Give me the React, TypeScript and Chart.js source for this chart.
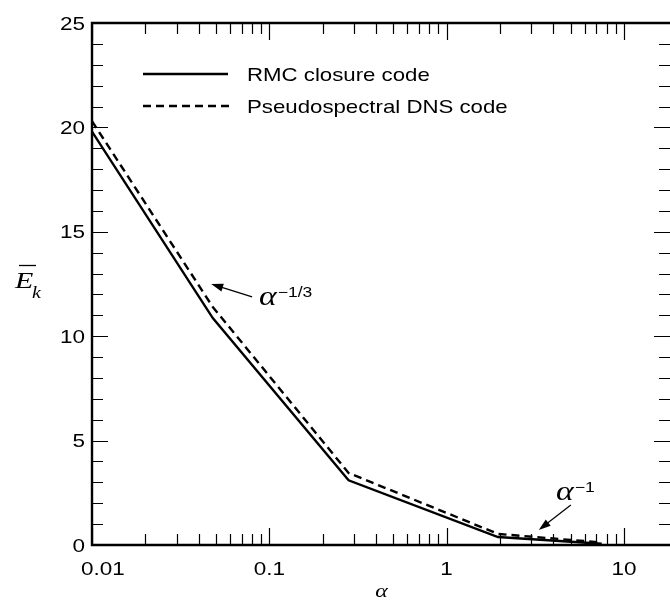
import React, { useEffect, useRef } from "react";
import { Chart, registerables } from "chart.js";

Chart.register(...registerables);

// ---- data ----
const alpha = [0.01, 0.048, 0.28, 1.95, 7.5];
const rmcValues = [19.8, 10.87, 3.1, 0.38, 0.06];
const dnsValues = [20.3, 11.4, 3.45, 0.53, 0.12];
const seriesLabels = ["RMC closure code", "Pseudospectral DNS code"];

const xTicks = [0.01, 0.1, 1, 10];
const xTickLabels = ["0.01", "0.1", "1", "10"];
const yTicks = [0, 5, 10, 15, 20, 25];
const yTickLabels = ["0", "5", "10", "15", "20", "25"];
const xMin = 0.01;
const xMax = 18.2;
const yMin = 0;
const yMax = 25;

// annotation anchors (data coordinates)
const arrowA = { from: [0.08, 11.88], to: [0.047, 12.5] };
const arrowB = { from: [5.02, 1.92], to: [3.31, 0.72] };
const labelA = { at: [0.0875, 11.49], sup: "\u22121/3" };
const labelB = { at: [4.14, 2.15], sup: "\u22121" };

const SANS = "'Liberation Sans', Arial, Helvetica, sans-serif";
const SERIF = "'Liberation Serif', 'Times New Roman', serif";
const STRETCH = 1.25;

function sText(
  ctx: CanvasRenderingContext2D,
  text: string,
  x: number,
  y: number,
  font: string,
  align: CanvasTextAlign = "left"
) {
  ctx.save();
  ctx.font = font;
  ctx.textAlign = align;
  ctx.textBaseline = "alphabetic";
  ctx.translate(x, y);
  ctx.scale(STRETCH, 1);
  ctx.fillText(text, 0, 0);
  const w = ctx.measureText(text).width * STRETCH;
  ctx.restore();
  return w;
}

function textWidth(ctx: CanvasRenderingContext2D, text: string, font: string) {
  ctx.save();
  ctx.font = font;
  const w = ctx.measureText(text).width * STRETCH;
  ctx.restore();
  return w;
}

function drawArrow(ctx: CanvasRenderingContext2D, x1: number, y1: number, x2: number, y2: number) {
  const ang = Math.atan2(y2 - y1, x2 - x1);
  const hl = 12;
  const hw = 4;
  ctx.beginPath();
  ctx.lineWidth = 1.2;
  ctx.moveTo(x1, y1);
  ctx.lineTo(x2 - Math.cos(ang) * hl * 0.8, y2 - Math.sin(ang) * hl * 0.8);
  ctx.stroke();
  ctx.beginPath();
  ctx.moveTo(x2, y2);
  ctx.lineTo(x2 - Math.cos(ang) * hl - Math.sin(ang) * hw, y2 - Math.sin(ang) * hl + Math.cos(ang) * hw);
  ctx.lineTo(x2 - Math.cos(ang) * hl + Math.sin(ang) * hw, y2 - Math.sin(ang) * hl - Math.cos(ang) * hw);
  ctx.closePath();
  ctx.fill();
}

const framePlugin = {
  id: "frame",
  afterDraw(chart: any) {
    const { ctx, chartArea } = chart;
    const { left, top, right, bottom } = chartArea;
    const x = chart.scales.x;
    const y = chart.scales.y;
    ctx.save();
    ctx.strokeStyle = "#000";
    ctx.fillStyle = "#000";

    // y ticks (left & right, inward)
    ctx.lineWidth = 1.2;
    ctx.beginPath();
    for (let v = yMin; v <= yMax; v += 1) {
      const py = Math.round(y.getPixelForValue(v)) + 0.5;
      const len = v % 5 === 0 ? 16 : 11;
      ctx.moveTo(left, py);
      ctx.lineTo(left + len, py);
      ctx.moveTo(right, py);
      ctx.lineTo(right - len, py);
    }
    // x ticks (bottom & top, inward)
    for (let e = -2; e <= 1; e++) {
      for (let m = 1; m <= 9; m++) {
        const v = m * Math.pow(10, e);
        if (v < xMin || v > xMax) continue;
        const px = Math.round(x.getPixelForValue(v)) + 0.5;
        const len = m === 1 ? 17 : 11;
        ctx.moveTo(px, bottom);
        ctx.lineTo(px, bottom - len);
        ctx.moveTo(px, top);
        ctx.lineTo(px, top + len);
      }
    }
    ctx.stroke();

    // axes frame
    ctx.lineWidth = 2.4;
    ctx.beginPath();
    ctx.moveTo(right + 2, top);
    ctx.lineTo(left, top);
    ctx.lineTo(left, bottom);
    ctx.lineTo(right + 2, bottom);
    ctx.stroke();

    // tick labels
    const tickFont = `18px ${SANS}`;
    yTicks.forEach((v, i) => {
      const py = y.getPixelForValue(v);
      sText(ctx, yTickLabels[i], left - 7, py + 6.5, tickFont, "right");
    });
    xTicks.forEach((v, i) => {
      let px = x.getPixelForValue(v);
      const w = textWidth(ctx, xTickLabels[i], tickFont);
      if (px - w / 2 < left - 11) px = left - 11 + w / 2;
      sText(ctx, xTickLabels[i], px, bottom + 30, tickFont, "center");
    });

    // legend
    const lx1 = 143, lx2 = 228, tx = 247;
    const ly = [74, 106];
    ctx.lineWidth = 2.4;
    ctx.beginPath();
    ctx.moveTo(lx1, ly[0]);
    ctx.lineTo(lx2, ly[0]);
    ctx.stroke();
    ctx.setLineDash([8, 5]);
    ctx.beginPath();
    ctx.moveTo(lx1, ly[1]);
    ctx.lineTo(lx2 + 2, ly[1]);
    ctx.stroke();
    ctx.setLineDash([]);
    const legFont = `17.8px ${SANS}`;
    sText(ctx, seriesLabels[0], tx, ly[0] + 7, legFont);
    sText(ctx, seriesLabels[1], tx, ly[1] + 7, legFont);

    // annotations
    const P = (p: number[]) => [x.getPixelForValue(p[0]), y.getPixelForValue(p[1])];
    for (const a of [arrowA, arrowB]) {
      const [x1, y1] = P(a.from);
      const [x2, y2] = P(a.to);
      drawArrow(ctx, x1, y1, x2, y2);
    }
    for (const l of [labelA, labelB]) {
      const [px, py] = P(l.at);
      const w = sText(ctx, "\u03b1", px, py, `italic 27px ${SERIF}`);
      sText(ctx, l.sup, px + w + 1, py - 8, `14px ${SANS}`);
    }

    // axis titles
    sText(ctx, "\u03b1", 381.5, 597, `italic 19px ${SERIF}`, "center");

    sText(ctx, "E", 15, 288, `italic 24px ${SERIF}`);
    ctx.lineWidth = 1.3;
    ctx.beginPath();
    ctx.moveTo(19, 265.5);
    ctx.lineTo(36, 265.5);
    ctx.stroke();
    sText(ctx, "k", 32, 298, `italic 16px ${SERIF}`);

    ctx.restore();
  },
};

export default function App() {
  const ref = useRef<HTMLCanvasElement | null>(null);

  useEffect(() => {
    if (!ref.current) return;
    const chart = new Chart(ref.current, {
      type: "line",
      data: {
        datasets: [
          {
            label: seriesLabels[0],
            data: alpha.map((a, i) => ({ x: a, y: rmcValues[i] })),
            borderColor: "#000",
            borderWidth: 2.4,
            pointRadius: 0,
            tension: 0,
            fill: false,
          },
          {
            label: seriesLabels[1],
            data: alpha.map((a, i) => ({ x: a, y: dnsValues[i] })),
            borderColor: "#000",
            borderWidth: 2.4,
            borderDash: [8, 5],
            pointRadius: 0,
            tension: 0,
            fill: false,
          },
        ],
      },
      options: {
        responsive: false,
        animation: false,
        devicePixelRatio: 1,
        layout: { padding: { top: 23, right: 0, left: 0, bottom: 0 } },
        plugins: { legend: { display: false }, tooltip: { enabled: false } },
        scales: {
          x: {
            type: "logarithmic",
            min: xMin,
            max: xMax,
            afterBuildTicks: (s: any) => {
              s.ticks = xTicks.map((v) => ({ value: v }));
            },
            afterFit: (s: any) => {
              s.height = 59;
            },
            grid: { display: false },
            border: { display: false },
            ticks: { display: false },
          },
          y: {
            type: "linear",
            min: yMin,
            max: yMax,
            afterBuildTicks: (s: any) => {
              s.ticks = yTicks.map((v) => ({ value: v }));
            },
            afterFit: (s: any) => {
              s.width = 92;
            },
            grid: { display: false },
            border: { display: false },
            ticks: { display: false },
          },
        },
      },
      plugins: [framePlugin],
    } as any);
    return () => chart.destroy();
  }, []);

  return (
    <div style={{ position: "absolute", left: 0, top: 0, width: 670, height: 604, background: "#fff" }}>
      <canvas ref={ref} width={670} height={604} style={{ display: "block" }} />
    </div>
  );
}
